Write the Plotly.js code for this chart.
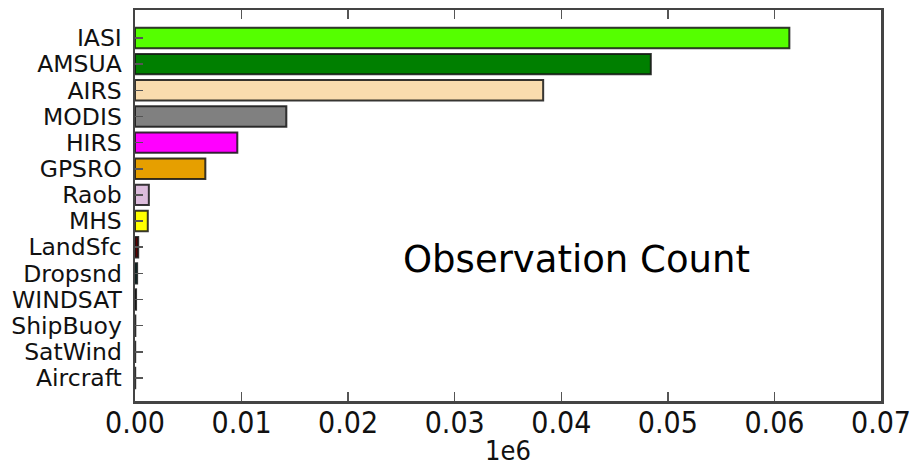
<!DOCTYPE html>
<html>
<head>
<meta charset="utf-8">
<script src="https://cdn.plot.ly/plotly-3.0.1.min.js"></script>
<style>html,body{margin:0;padding:0;background:#fff;}#chart{width:916px;height:468px;}</style>
</head>
<body>
<div id="chart"></div>
<script>
// Categories listed from bottom to top
var categories = ["Aircraft","SatWind","ShipBuoy","WINDSAT","Dropsnd","LandSfc","MHS","Raob","GPSRO","HIRS","MODIS","AIRS","AMSUA","IASI"];
// Observation counts (in units of 1e6)
var counts = [0.00002,0.00002,0.00003,0.0001,0.0002,0.0003,0.0012,0.0013,0.0066,0.0096,0.0142,0.0383,0.0484,0.0614];
var barColors = ["#1a1a1a","#1a1a1a","#1a1a1a","#202020","#005a5a","#5a0000","#ffff00","#dcbcdc","#e69f00","#ff00ff","#808080","#f9dcae","#007f00","#55ff00"];
var xTicks = [0,0.01,0.02,0.03,0.04,0.05,0.06,0.07];
var xTickText = ["0.00","0.01","0.02","0.03","0.04","0.05","0.06","0.07"];
var xExponentLabel = "1e6";
var panelLabel = "Observation Count";

var trace = {
  type: "bar",
  orientation: "h",
  y: categories,
  x: counts,
  width: 0.78,
  marker: {color: barColors, line: {color: "rgba(20,20,20,0.85)", width: 2}},
  hoverinfo: "x+y"
};

var layout = {
  width: 916, height: 468,
  margin: {l: 135, r: 35, t: 10, b: 67, pad: 0},
  paper_bgcolor: "#fff", plot_bgcolor: "#fff",
  showlegend: false,
  xaxis: {
    range: [0, 0.07],
    tickvals: xTicks, ticktext: xTickText,
    ticks: "inside", ticklen: 9, tickwidth: 1.5, tickcolor: "#555",
    showline: true, linecolor: "#444", linewidth: 2.5, mirror: "allticks",
    showgrid: false, zeroline: false,
    tickfont: {family: "DejaVu Sans Condensed, DejaVu Sans", size: 30, color: "#111"},
    ticklabelstandoff: -7,
    automargin: false
  },
  yaxis: {
    type: "category",
    categoryorder: "array", categoryarray: categories,
    tickmode: "array", tickvals: categories, ticktext: categories,
    range: [-0.88, 14.07],
    ticks: "inside", ticklen: 8, tickwidth: 1.5, tickcolor: "#555",
    showline: true, linecolor: "#444", linewidth: 2.5, mirror: true,
    showgrid: false, zeroline: false,
    tickfont: {family: "DejaVu Sans", size: 23.5, color: "#111"},
    ticklabelstandoff: 6,
    automargin: false
  },
  annotations: [{
    text: panelLabel, xref: "paper", yref: "paper",
    x: (576 - 135) / 746, y: (401 - 259) / 391, xanchor: "center", yanchor: "middle", showarrow: false,
    font: {family: "DejaVu Sans", size: 37, color: "#000"}
  }, {
    text: xExponentLabel, xref: "paper", yref: "paper", borderpad: 0,
    x: 0.5, y: (401 - 450) / 391, xanchor: "center", yanchor: "middle", showarrow: false,
    font: {family: "DejaVu Sans Condensed, DejaVu Sans", size: 27, color: "#111"}
  }]
};

Plotly.newPlot("chart", [trace], layout, {displayModeBar: false, staticPlot: true});
</script>
</body>
</html>
